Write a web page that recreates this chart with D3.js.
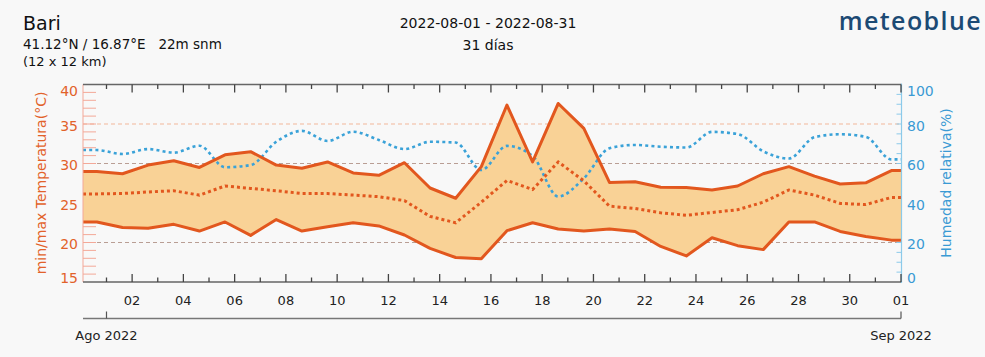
<!DOCTYPE html>
<html>
<head>
<meta charset="utf-8">
<script src="https://cdn.jsdelivr.net/npm/d3@7"></script>
<style>
  html, body { margin: 0; padding: 0; background: #f8f8f8; }
  svg { display: block; font-family: "DejaVu Sans", sans-serif; }
</style>
</head>
<body>
<svg id="chart" width="985" height="357"></svg>
<script>
// ---- data (Jul 31 is the lead-in day shown at the left edge) ----
const days = ["2022-07-31","2022-08-01","2022-08-02","2022-08-03","2022-08-04","2022-08-05","2022-08-06","2022-08-07",
  "2022-08-08","2022-08-09","2022-08-10","2022-08-11","2022-08-12","2022-08-13","2022-08-14","2022-08-15",
  "2022-08-16","2022-08-17","2022-08-18","2022-08-19","2022-08-20","2022-08-21","2022-08-22","2022-08-23",
  "2022-08-24","2022-08-25","2022-08-26","2022-08-27","2022-08-28","2022-08-29","2022-08-30","2022-08-31"];
const tempMax = [29.0, 28.7, 29.8, 30.35, 29.5, 31.1, 31.5, 29.8, 29.4, 30.2, 28.8, 28.5, 30.1, 26.9, 25.6, 29.6,
  37.4, 30.2, 37.6, 34.45, 27.6, 27.7, 27.0, 26.95, 26.65, 27.15, 28.7, 29.6, 28.4, 27.4, 27.55, 29.1];
const tempMin = [22.6, 21.9, 21.8, 22.3, 21.45, 22.6, 20.9, 22.9, 21.45, 22.0, 22.5, 22.1, 20.95, 19.25, 18.1, 17.95,
  21.5, 22.5, 21.7, 21.45, 21.7, 21.4, 19.5, 18.3, 20.6, 19.6, 19.1, 22.6, 22.6, 21.4, 20.75, 20.3];
const tempMean = [26.15, 26.2, 26.4, 26.55, 26.0, 27.15, 26.85, 26.55, 26.2, 26.2, 26.0, 25.8, 25.3, 23.3, 22.5, 25.1,
  27.85, 26.7, 30.2, 27.8, 24.6, 24.3, 23.75, 23.45, 23.8, 24.15, 25.1, 26.65, 26.0, 24.95, 24.8, 25.7];
const humidity = [66.8, 64.8, 67.3, 65.5, 69.0, 58.1, 59.2, 71.0, 76.5, 71.4, 76.1, 71.9, 67.3, 71.0, 70.6, 56.7,
  68.9, 63.8, 43.3, 52.5, 67.7, 69.4, 68.5, 68.1, 76.0, 74.9, 66.2, 62.5, 73.3, 74.8, 73.5, 62.1];
const tempTicks = [15, 20, 25, 30, 35, 40];
const humTicks = [0, 20, 40, 60, 80, 100];

// ---- layout ----
const svg = d3.select("#chart");
const L = 83, R = 901, T = 84.5, B = 282;
const xStart = new Date(Date.UTC(2022, 6, 31, 2)), xEnd = new Date(Date.UTC(2022, 8, 1, 0));
const x = d3.scaleUtc().domain([xStart, xEnd]).range([L, R]);
const yT = d3.scaleLinear().domain([15, 40]).range([B, T]);
const yH = d3.scaleLinear().domain([0, 100]).range([B, T]);
const parse = d3.utcParse("%Y-%m-%d");
const times = days.map(d => d3.utcHour.offset(parse(d), 15));

function series(vals) {
  const pts = vals.map((v, i) => ({ t: times[i], v }));
  return [{ t: xStart, v: vals[0] }, ...pts, { t: xEnd, v: vals[vals.length - 1] }];
}
const band = series(tempMax).map((p, i) => ({ t: p.t, hi: p.v, lo: series(tempMin)[i].v }));

const ORANGE = "#e2571e", FILL = "#f9d296", BLUE = "#3aa2d8", LBLUE = "#8ccaea";

// clip
svg.append("defs").append("clipPath").attr("id", "plot")
  .append("rect").attr("x", L).attr("y", T).attr("width", R - L).attr("height", B - T);

// background
svg.append("rect").attr("width", 985).attr("height", 357).attr("fill", "#f8f8f8");

// grid lines
const grid = svg.append("g");
[20, 25, 30, 35].forEach(t => {
  grid.append("line").attr("x1", L).attr("x2", R).attr("y1", yT(t)).attr("y2", yT(t))
    .attr("stroke", (t === 25 || t === 35) ? "#f2b79a" : "#b99e94")
    .attr("stroke-width", 1).attr("stroke-dasharray", "4,3");
});

// left axis minor ticks (inside plot)
const leftTicks = d3.range(16, 40);
svg.append("g").selectAll("line").data(leftTicks).join("line")
  .attr("x1", L).attr("x2", L + 13).attr("y1", d => yT(d)).attr("y2", d => yT(d))
  .attr("stroke", "#f3a898").attr("stroke-width", 1);
// right axis minor ticks
svg.append("g").selectAll("line").data(d3.range(5, 100, 5)).join("line")
  .attr("x1", R - 4.5).attr("x2", R).attr("y1", d => yH(d)).attr("y2", d => yH(d))
  .attr("stroke", LBLUE).attr("stroke-width", 1);

const plot = svg.append("g").attr("clip-path", "url(#plot)");

// temperature band
plot.append("path").datum(band)
  .attr("d", d3.area().x(d => x(d.t)).y0(d => yT(d.lo)).y1(d => yT(d.hi)))
  .attr("fill", FILL);

// humidity
plot.append("path").datum(series(humidity))
  .attr("d", d3.line().curve(d3.curveMonotoneX).x(d => x(d.t)).y(d => yH(d.v)))
  .attr("fill", "none").attr("stroke", BLUE).attr("stroke-width", 2.6)
  .attr("stroke-dasharray", "3,3.2");

// mean
plot.append("path").datum(series(tempMean))
  .attr("d", d3.line().x(d => x(d.t)).y(d => yT(d.v)))
  .attr("fill", "none").attr("stroke", ORANGE).attr("stroke-width", 3)
  .attr("stroke-dasharray", "3,3");

// max / min
[tempMax, tempMin].forEach(vals => {
  plot.append("path").datum(series(vals))
    .attr("d", d3.line().x(d => x(d.t)).y(d => yT(d.v)))
    .attr("fill", "none").attr("stroke", ORANGE).attr("stroke-width", 3)
    .attr("stroke-linejoin", "round");
});

// frame
svg.append("line").attr("x1", L).attr("x2", L).attr("y1", T).attr("y2", B).attr("stroke", "#f3a898").attr("stroke-width", 1);
svg.append("line").attr("x1", R + 0.5).attr("x2", R + 0.5).attr("y1", T - 1).attr("y2", B + 1).attr("stroke", LBLUE).attr("stroke-width", 1.2);
svg.append("line").attr("x1", L).attr("x2", R).attr("y1", T).attr("y2", T).attr("stroke", "#666").attr("stroke-width", 1.5);
svg.append("line").attr("x1", L).attr("x2", R).attr("y1", B).attr("y2", B).attr("stroke", "#666").attr("stroke-width", 1.5);

// day ticks top & bottom
const dayTicks = d3.utcDay.range(new Date(Date.UTC(2022, 7, 1)), new Date(Date.UTC(2022, 8, 1, 1)));
const isLong = d => d.getUTCDate() % 2 === 0 || d.getUTCMonth() === 8;
svg.append("g").selectAll("line").data(dayTicks).join("line")
  .attr("x1", d => x(d)).attr("x2", d => x(d)).attr("y1", T).attr("y2", d => T + (isLong(d) ? 8 : 4.5))
  .attr("stroke", "#444").attr("stroke-width", 1.3);
svg.append("g").selectAll("line").data(dayTicks).join("line")
  .attr("x1", d => x(d)).attr("x2", d => x(d)).attr("y1", B).attr("y2", d => B - (isLong(d) ? 8 : 4.5))
  .attr("stroke", "#444").attr("stroke-width", 1.3);

// x labels
const labelDays = dayTicks.filter(isLong);
svg.append("g").selectAll("text").data(labelDays).join("text")
  .attr("x", d => x(d)).attr("y", 305).attr("text-anchor", "middle")
  .attr("font-size", 13).attr("fill", "#222")
  .text(d3.utcFormat("%d"));

// month axis
const monthTicks = [new Date(Date.UTC(2022, 7, 1)), new Date(Date.UTC(2022, 8, 1))];
const monthLabels = ["Ago 2022", "Sep 2022"];
svg.append("line").attr("x1", L).attr("x2", R).attr("y1", 318.5).attr("y2", 318.5).attr("stroke", "#777").attr("stroke-width", 1.5);
svg.append("g").selectAll("line").data(monthTicks).join("line")
  .attr("x1", d => x(d)).attr("x2", d => x(d)).attr("y1", 318.5).attr("y2", 311.5)
  .attr("stroke", "#555").attr("stroke-width", 1.2);
svg.append("g").selectAll("text").data(monthTicks).join("text")
  .attr("x", d => x(d)).attr("y", 340).attr("text-anchor", "middle")
  .attr("font-size", 13).attr("fill", "#222")
  .text((d, i) => monthLabels[i]);

// y labels
const clampY = v => Math.max(90.5, Math.min(277.5, v));
svg.append("g").selectAll("text").data(tempTicks).join("text")
  .attr("x", 78).attr("y", d => clampY(yT(d) + 1.5)).attr("dy", "0.36em").attr("text-anchor", "end")
  .attr("font-size", 14).attr("fill", "#e2622a").text(d => d);
svg.append("g").selectAll("text").data(humTicks).join("text")
  .attr("x", 907).attr("y", d => clampY(yH(d) + 1.5)).attr("dy", "0.36em").attr("text-anchor", "start")
  .attr("font-size", 14).attr("fill", "#3a9ad4").text(d => d);

svg.append("text").attr("transform", "translate(46,183) rotate(-90)").attr("text-anchor", "middle")
  .attr("font-size", 14).attr("fill", "#e2622a").text("min/max Temperatura(°C)");
svg.append("text").attr("transform", "translate(951,183) rotate(-90)").attr("text-anchor", "middle")
  .attr("font-size", 14).attr("fill", "#3a9ad4").text("Humedad relativa(%)");

// header
svg.append("text").attr("x", 23).attr("y", 30).attr("font-size", 19).attr("fill", "#111").text("Bari");
svg.append("text").attr("x", 23).attr("y", 49).attr("font-size", 13.5).attr("fill", "#111")
  .attr("xml:space", "preserve").style("white-space", "pre").text("41.12°N / 16.87°E   22m snm");
svg.append("text").attr("x", 23).attr("y", 66).attr("font-size", 13).attr("fill", "#111").text("(12 x 12 km)");
svg.append("text").attr("x", 488).attr("y", 28).attr("text-anchor", "middle").attr("font-size", 14).attr("fill", "#111").text("2022-08-01 - 2022-08-31");
svg.append("text").attr("x", 488).attr("y", 50).attr("text-anchor", "middle").attr("font-size", 14).attr("fill", "#111").text("31 días");
svg.append("text").attr("x", 982).attr("y", 30).attr("text-anchor", "end")
  .attr("font-family", "'Open Sans', sans-serif").attr("font-weight", 600)
  .attr("letter-spacing", 1.4)
  .attr("font-size", 25).attr("fill", "#1c4a74").text("meteoblue");
</script>
</body>
</html>
